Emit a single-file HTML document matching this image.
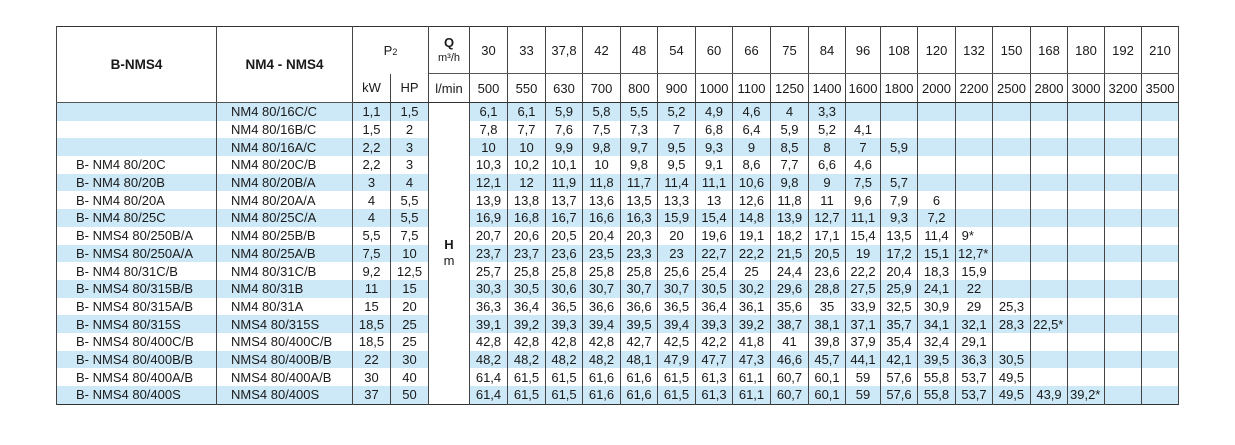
<!DOCTYPE html><html><head><meta charset="utf-8"><style>
body{margin:0;background:#fff;width:1235px;height:445px;overflow:hidden;font-family:"Liberation Sans",sans-serif;color:#1a1a1a}
table{position:absolute;left:56px;top:26px;border-collapse:collapse;table-layout:fixed;width:1122px;border:1.5px solid #333}
td{padding:0;font-size:13px;text-align:center;border-left:1px solid #444;border-right:1px solid #444;white-space:nowrap;overflow:hidden}
tr.h1 td{height:46px;border-bottom:1px solid #555}
tr.h2 td{height:28px;border-bottom:1.5px solid #333}
tr.d td{height:17.7px;line-height:17px}
tr.b td{background:#cde9f8}
tr.d td.q{background:#fff}
td.l1{text-align:left;padding-left:19px}
td.l2{text-align:left;padding-left:14px}
td.s{text-align:left;padding-left:2px}
.big{font-weight:bold;font-size:13.5px}
</style></head><body>
<table>
<colgroup><col style="width:160px"><col style="width:136px"><col style="width:38px"><col style="width:38px"><col style="width:41px">
<col style="width:38px"><col style="width:38px"><col style="width:37px"><col style="width:38px"><col style="width:37px"><col style="width:38px"><col style="width:37px"><col style="width:38px"><col style="width:38px"><col style="width:37px"><col style="width:35px"><col style="width:37px"><col style="width:38px"><col style="width:37px"><col style="width:38px"><col style="width:37px"><col style="width:37px"><col style="width:37px"><col style="width:37px"></colgroup>
<tr class="h1"><td rowspan="2" class="big">B-NMS4</td><td rowspan="2" class="big">NM4 - NMS4</td><td colspan="2" style="border-bottom:none">P<span style="font-size:9px">2</span></td><td style="line-height:14px"><b style="font-size:13px">Q</b><br><span style="font-size:11px">m³/h</span></td><td>30</td><td>33</td><td>37,8</td><td>42</td><td>48</td><td>54</td><td>60</td><td>66</td><td>75</td><td>84</td><td>96</td><td>108</td><td>120</td><td>132</td><td>150</td><td>168</td><td>180</td><td>192</td><td>210</td></tr>
<tr class="h2"><td>kW</td><td>HP</td><td>l/min</td><td>500</td><td>550</td><td>630</td><td>700</td><td>800</td><td>900</td><td>1000</td><td>1100</td><td>1250</td><td>1400</td><td>1600</td><td>1800</td><td>2000</td><td>2200</td><td>2500</td><td>2800</td><td>3000</td><td>3200</td><td>3500</td></tr>
<tr class="d b"><td class="l1"></td><td class="l2">NM4 80/16C/C</td><td>1,1</td><td>1,5</td><td class="q" rowspan="17" style="line-height:16px"><b style="font-size:13px">H</b><br>m</td><td>6,1</td><td>6,1</td><td>5,9</td><td>5,8</td><td>5,5</td><td>5,2</td><td>4,9</td><td>4,6</td><td>4</td><td>3,3</td><td></td><td></td><td></td><td></td><td></td><td></td><td></td><td></td><td></td></tr>
<tr class="d"><td class="l1"></td><td class="l2">NM4 80/16B/C</td><td>1,5</td><td>2</td><td>7,8</td><td>7,7</td><td>7,6</td><td>7,5</td><td>7,3</td><td>7</td><td>6,8</td><td>6,4</td><td>5,9</td><td>5,2</td><td>4,1</td><td></td><td></td><td></td><td></td><td></td><td></td><td></td><td></td></tr>
<tr class="d b"><td class="l1"></td><td class="l2">NM4 80/16A/C</td><td>2,2</td><td>3</td><td>10</td><td>10</td><td>9,9</td><td>9,8</td><td>9,7</td><td>9,5</td><td>9,3</td><td>9</td><td>8,5</td><td>8</td><td>7</td><td>5,9</td><td></td><td></td><td></td><td></td><td></td><td></td><td></td></tr>
<tr class="d"><td class="l1">B- NM4 80/20C</td><td class="l2">NM4 80/20C/B</td><td>2,2</td><td>3</td><td>10,3</td><td>10,2</td><td>10,1</td><td>10</td><td>9,8</td><td>9,5</td><td>9,1</td><td>8,6</td><td>7,7</td><td>6,6</td><td>4,6</td><td></td><td></td><td></td><td></td><td></td><td></td><td></td><td></td></tr>
<tr class="d b"><td class="l1">B- NM4 80/20B</td><td class="l2">NM4 80/20B/A</td><td>3</td><td>4</td><td>12,1</td><td>12</td><td>11,9</td><td>11,8</td><td>11,7</td><td>11,4</td><td>11,1</td><td>10,6</td><td>9,8</td><td>9</td><td>7,5</td><td>5,7</td><td></td><td></td><td></td><td></td><td></td><td></td><td></td></tr>
<tr class="d"><td class="l1">B- NM4 80/20A</td><td class="l2">NM4 80/20A/A</td><td>4</td><td>5,5</td><td>13,9</td><td>13,8</td><td>13,7</td><td>13,6</td><td>13,5</td><td>13,3</td><td>13</td><td>12,6</td><td>11,8</td><td>11</td><td>9,6</td><td>7,9</td><td>6</td><td></td><td></td><td></td><td></td><td></td><td></td></tr>
<tr class="d b"><td class="l1">B- NM4 80/25C</td><td class="l2">NM4 80/25C/A</td><td>4</td><td>5,5</td><td>16,9</td><td>16,8</td><td>16,7</td><td>16,6</td><td>16,3</td><td>15,9</td><td>15,4</td><td>14,8</td><td>13,9</td><td>12,7</td><td>11,1</td><td>9,3</td><td>7,2</td><td></td><td></td><td></td><td></td><td></td><td></td></tr>
<tr class="d"><td class="l1">B- NMS4 80/250B/A</td><td class="l2">NM4 80/25B/B</td><td>5,5</td><td>7,5</td><td>20,7</td><td>20,6</td><td>20,5</td><td>20,4</td><td>20,3</td><td>20</td><td>19,6</td><td>19,1</td><td>18,2</td><td>17,1</td><td>15,4</td><td>13,5</td><td>11,4</td><td class="s">&nbsp;9*</td><td></td><td></td><td></td><td></td><td></td></tr>
<tr class="d b"><td class="l1">B- NMS4 80/250A/A</td><td class="l2">NM4 80/25A/B</td><td>7,5</td><td>10</td><td>23,7</td><td>23,7</td><td>23,6</td><td>23,5</td><td>23,3</td><td>23</td><td>22,7</td><td>22,2</td><td>21,5</td><td>20,5</td><td>19</td><td>17,2</td><td>15,1</td><td class="s">12,7*</td><td></td><td></td><td></td><td></td><td></td></tr>
<tr class="d"><td class="l1">B- NM4 80/31C/B</td><td class="l2">NM4 80/31C/B</td><td>9,2</td><td>12,5</td><td>25,7</td><td>25,8</td><td>25,8</td><td>25,8</td><td>25,8</td><td>25,6</td><td>25,4</td><td>25</td><td>24,4</td><td>23,6</td><td>22,2</td><td>20,4</td><td>18,3</td><td>15,9</td><td></td><td></td><td></td><td></td><td></td></tr>
<tr class="d b"><td class="l1">B- NMS4 80/315B/B</td><td class="l2">NM4 80/31B</td><td>11</td><td>15</td><td>30,3</td><td>30,5</td><td>30,6</td><td>30,7</td><td>30,7</td><td>30,7</td><td>30,5</td><td>30,2</td><td>29,6</td><td>28,8</td><td>27,5</td><td>25,9</td><td>24,1</td><td>22</td><td></td><td></td><td></td><td></td><td></td></tr>
<tr class="d"><td class="l1">B- NMS4 80/315A/B</td><td class="l2">NM4 80/31A</td><td>15</td><td>20</td><td>36,3</td><td>36,4</td><td>36,5</td><td>36,6</td><td>36,6</td><td>36,5</td><td>36,4</td><td>36,1</td><td>35,6</td><td>35</td><td>33,9</td><td>32,5</td><td>30,9</td><td>29</td><td>25,3</td><td></td><td></td><td></td><td></td></tr>
<tr class="d b"><td class="l1">B- NMS4 80/315S</td><td class="l2">NMS4 80/315S</td><td>18,5</td><td>25</td><td>39,1</td><td>39,2</td><td>39,3</td><td>39,4</td><td>39,5</td><td>39,4</td><td>39,3</td><td>39,2</td><td>38,7</td><td>38,1</td><td>37,1</td><td>35,7</td><td>34,1</td><td>32,1</td><td>28,3</td><td class="s">22,5*</td><td></td><td></td><td></td></tr>
<tr class="d"><td class="l1">B- NMS4 80/400C/B</td><td class="l2">NMS4 80/400C/B</td><td>18,5</td><td>25</td><td>42,8</td><td>42,8</td><td>42,8</td><td>42,8</td><td>42,7</td><td>42,5</td><td>42,2</td><td>41,8</td><td>41</td><td>39,8</td><td>37,9</td><td>35,4</td><td>32,4</td><td>29,1</td><td></td><td></td><td></td><td></td><td></td></tr>
<tr class="d b"><td class="l1">B- NMS4 80/400B/B</td><td class="l2">NMS4 80/400B/B</td><td>22</td><td>30</td><td>48,2</td><td>48,2</td><td>48,2</td><td>48,2</td><td>48,1</td><td>47,9</td><td>47,7</td><td>47,3</td><td>46,6</td><td>45,7</td><td>44,1</td><td>42,1</td><td>39,5</td><td>36,3</td><td>30,5</td><td></td><td></td><td></td><td></td></tr>
<tr class="d"><td class="l1">B- NMS4 80/400A/B</td><td class="l2">NMS4 80/400A/B</td><td>30</td><td>40</td><td>61,4</td><td>61,5</td><td>61,5</td><td>61,6</td><td>61,6</td><td>61,5</td><td>61,3</td><td>61,1</td><td>60,7</td><td>60,1</td><td>59</td><td>57,6</td><td>55,8</td><td>53,7</td><td>49,5</td><td></td><td></td><td></td><td></td></tr>
<tr class="d b"><td class="l1">B- NMS4 80/400S</td><td class="l2">NMS4 80/400S</td><td>37</td><td>50</td><td>61,4</td><td>61,5</td><td>61,5</td><td>61,6</td><td>61,6</td><td>61,5</td><td>61,3</td><td>61,1</td><td>60,7</td><td>60,1</td><td>59</td><td>57,6</td><td>55,8</td><td>53,7</td><td>49,5</td><td>43,9</td><td class="s">39,2*</td><td></td><td></td></tr>
</table>
</body></html>
